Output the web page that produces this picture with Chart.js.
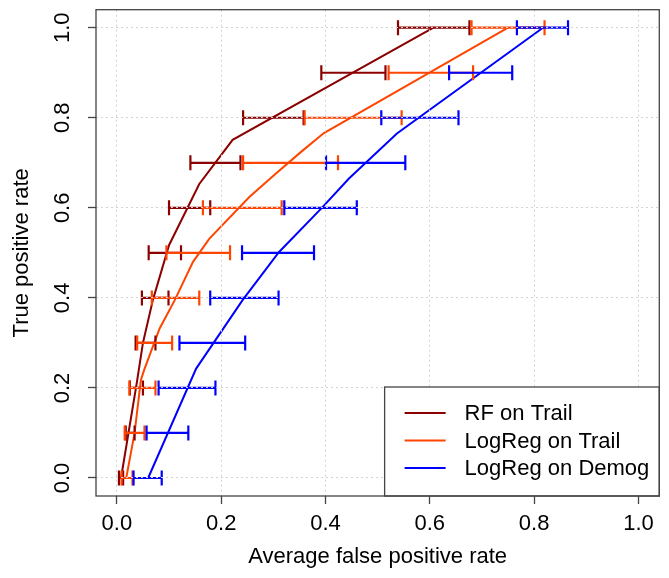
<!DOCTYPE html>
<html>
<head>
<meta charset="utf-8">
<script src="https://cdn.jsdelivr.net/npm/chart.js@4/dist/chart.umd.min.js"></script>
<style>
html,body{margin:0;padding:0;background:#fff;}
#wrap{width:669px;height:578px;}
</style>
</head>
<body>
<div id="wrap"><canvas id="c" width="669" height="578"></canvas></div>
<script>
// ---- data ----
const seriesNames = ['RF on Trail', 'LogReg on Trail', 'LogReg on Demog'];
const seriesColors = ['#8B0000', '#FF4500', '#0000FF'];

// average ROC curves (false positive rate, true positive rate)
const rfCurveX = [0.008, 0.039, 0.050, 0.069, 0.100, 0.158, 0.222, 0.607];
const rfCurveY = [0.000, 0.217, 0.300, 0.395, 0.517, 0.653, 0.751, 1.000];
const lrTrailCurveX = [0.018, 0.034, 0.046, 0.052, 0.082, 0.111, 0.146, 0.177, 0.254, 0.305, 0.356, 0.397, 0.750];
const lrTrailCurveY = [0.000, 0.100, 0.217, 0.239, 0.332, 0.395, 0.480, 0.531, 0.624, 0.676, 0.727, 0.766, 1.000];
const lrDemogCurveX = [0.060, 0.152, 0.241, 0.311, 0.393, 0.445, 0.537, 0.817];
const lrDemogCurveY = [0.000, 0.243, 0.395, 0.502, 0.600, 0.665, 0.765, 1.000];

// horizontal error bars: FPR range at each TPR level
const tprLevels = [0.0, 0.1, 0.2, 0.3, 0.4, 0.5, 0.6, 0.7, 0.8, 0.9, 1.0];
const rfLo = [0.004, 0.017, 0.025, 0.036, 0.048, 0.061, 0.100, 0.141, 0.242, 0.392, 0.539];
const rfHi = [0.012, 0.034, 0.050, 0.074, 0.099, 0.123, 0.179, 0.237, 0.358, 0.515, 0.676];
const lrTrailLo = [0.009, 0.015, 0.024, 0.039, 0.067, 0.095, 0.165, 0.242, 0.360, 0.521, 0.680];
const lrTrailHi = [0.030, 0.053, 0.074, 0.106, 0.158, 0.217, 0.316, 0.424, 0.546, 0.683, 0.820];
const lrDemogLo = [0.032, 0.057, 0.080, 0.120, 0.179, 0.240, 0.321, 0.401, 0.507, 0.637, 0.767];
const lrDemogHi = [0.086, 0.137, 0.189, 0.246, 0.310, 0.378, 0.460, 0.553, 0.655, 0.758, 0.865];

const tickValues = [0.0, 0.2, 0.4, 0.6, 0.8, 1.0];
const tickLabels = ['0.0', '0.2', '0.4', '0.6', '0.8', '1.0'];
const xTitle = 'Average false positive rate';
const yTitle = 'True positive rate';

// ---- build datasets ----
const FONT = "'Liberation Sans', Arial, Helvetica, sans-serif";
const curves = [[rfCurveX, rfCurveY], [lrTrailCurveX, lrTrailCurveY], [lrDemogCurveX, lrDemogCurveY]];
const bars = [[rfLo, rfHi], [lrTrailLo, lrTrailHi], [lrDemogLo, lrDemogHi]];
const datasets = [];
curves.forEach((c, s) => {
  datasets.push({
    label: seriesNames[s],
    data: c[0].map((x, i) => ({x: x, y: c[1][i]})),
    showLine: true, borderColor: seriesColors[s], backgroundColor: seriesColors[s],
    borderWidth: 2, pointRadius: 0, pointHoverRadius: 0, tension: 0,
    order: 100, isCurve: true
  });
});
bars.forEach((b, s) => {
  tprLevels.forEach((t, i) => {
    datasets.push({
      label: seriesNames[s] + ' bar',
      data: [{x: b[0][i], y: t}, {x: b[1][i], y: t}],
      showLine: true, borderColor: seriesColors[s], backgroundColor: seriesColors[s],
      borderWidth: 2.2, tension: 0,
      pointStyle: 'line', rotation: 90, pointRadius: 7.5, pointHoverRadius: 7.5,
      pointBorderColor: seriesColors[s], pointBorderWidth: 2.2,
      order: 30 - s * 10
    });
  });
});

const boxPlugin = {
  id: 'boxAndLegend',
  afterDraw(chart) {
    const ctx = chart.ctx, a = chart.chartArea;
    ctx.save();
    // legend
    ctx.font = '22px ' + FONT;
    const names = chart.data.datasets.filter(d => d.isCurve);
    let maxW = 0;
    names.forEach(d => { maxW = Math.max(maxW, ctx.measureText(d.label).width); });
    const w = 20 + 41 + 19 + maxW + 10;
    const h = 109;
    const bx = a.right - w, by = a.bottom - h;
    ctx.fillStyle = '#fff';
    ctx.fillRect(bx, by, w, h);
    ctx.strokeStyle = '#444';
    ctx.lineWidth = 1.3;
    ctx.strokeRect(bx, by, w, h);
    names.forEach((d, i) => {
      const yy = by + 26 + i * 27.5;
      ctx.strokeStyle = d.borderColor;
      ctx.lineWidth = 2;
      ctx.beginPath();
      ctx.moveTo(bx + 20, yy);
      ctx.lineTo(bx + 61, yy);
      ctx.stroke();
      ctx.fillStyle = '#000';
      ctx.textBaseline = 'middle';
      ctx.textAlign = 'left';
      ctx.fillText(d.label, bx + 80, yy + 1);
    });
    // plot box
    ctx.strokeStyle = '#444';
    ctx.lineWidth = 1.3;
    ctx.strokeRect(a.left, a.top, a.right - a.left, a.bottom - a.top);
    ctx.restore();
  }
};

const setTicks = (scale) => { scale.ticks = tickValues.map(v => ({value: v})); };
const labelFor = (v) => { const i = tickValues.findIndex(t => Math.abs(t - v) < 1e-9); return i >= 0 ? tickLabels[i] : ''; };

new Chart(document.getElementById('c'), {
  type: 'scatter',
  data: {datasets: datasets},
  options: {
    responsive: false,
    animation: false,
    devicePixelRatio: 1,
    layout: {padding: {top: 7, right: 7, left: 0, bottom: 0}},
    plugins: {legend: {display: false}, tooltip: {enabled: false}},
    scales: {
      x: {
        type: 'linear', min: -0.04, max: 1.04,
        afterBuildTicks: setTicks,
        afterFit: (s) => { s.height = 82; s.paddingLeft = 0; s.paddingRight = 0; },
        grid: {color: '#d3d3d3', lineWidth: 1, z: 1, tickLength: 8, tickColor: '#444', tickWidth: 1.3, tickBorderDash: []},
        border: {display: false, dash: [2, 3]},
        ticks: {color: '#000', font: {family: FONT, size: 22}, padding: 7, maxRotation: 0, minRotation: 0, autoSkip: false, callback: labelFor},
        title: {display: true, text: xTitle, color: '#000', font: {family: FONT, size: 22}, padding: {top: 0, bottom: 8}}
      },
      y: {
        type: 'linear', min: -0.04, max: 1.04,
        afterBuildTicks: setTicks,
        afterFit: (s) => { s.width = 96; s.paddingTop = 0; s.paddingBottom = 0; },
        grid: {color: '#d3d3d3', lineWidth: 1, z: 1, tickLength: 8, tickColor: '#444', tickWidth: 1.3, tickBorderDash: []},
        border: {display: false, dash: [2, 3]},
        ticks: {color: '#000', font: {family: FONT, size: 22}, padding: 10, minRotation: 90, maxRotation: 90, crossAlign: 'center', autoSkip: false, callback: labelFor},
        title: {display: true, text: yTitle, color: '#000', font: {family: FONT, size: 22}, padding: {top: 9, bottom: 0}}
      }
    }
  },
  plugins: [boxPlugin]
});
</script>
</body>
</html>
